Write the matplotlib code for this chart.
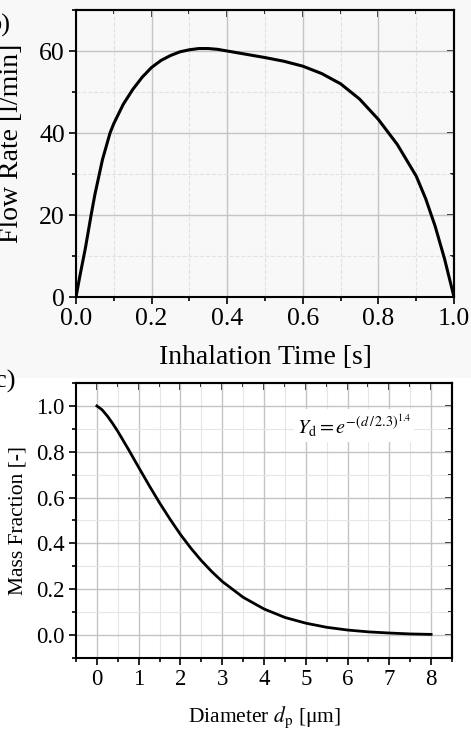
import matplotlib
matplotlib.use("Agg")
import matplotlib.pyplot as plt
from matplotlib.ticker import MultipleLocator
from matplotlib.patches import Rectangle

plt.rcParams['font.family'] = ['Liberation Serif', 'DejaVu Serif']
plt.rcParams['mathtext.fontset'] = 'stix'

# Top panel: inhalation flow profile
time_s = [0.0, 0.01, 0.025, 0.04, 0.05, 0.07, 0.09, 0.1, 0.125, 0.15, 0.175, 0.2, 0.225,
          0.25, 0.275, 0.3, 0.325, 0.35, 0.375, 0.4, 0.45, 0.5, 0.55, 0.6, 0.65, 0.7,
          0.75, 0.8, 0.85, 0.9, 0.925, 0.95, 0.975, 1.0]
flow_lpm = [0.0, 5.0, 12.0, 20.0, 25.0, 33.5, 40.0, 42.3, 47.0, 50.6, 53.6, 56.0, 57.7,
            58.9, 59.8, 60.3, 60.6, 60.6, 60.4, 60.0, 59.2, 58.4, 57.5, 56.3, 54.5, 52.0,
            48.3, 43.3, 37.2, 29.5, 24.0, 17.3, 9.3, 0.0]

# Bottom panel: mass fraction vs diameter
diam_um = [0, 0.125, 0.25, 0.375, 0.5, 0.75, 1.0, 1.25, 1.5, 1.75, 2.0, 2.25, 2.5, 2.75,
           3.0, 3.5, 4.0, 4.5, 5.0, 5.5, 6.0, 6.5, 7.0, 7.5, 8.0]
mass_frac = [1.0, 0.983, 0.956, 0.924, 0.889, 0.812, 0.732, 0.653, 0.577, 0.506, 0.439,
             0.379, 0.325, 0.277, 0.234, 0.165, 0.114, 0.077, 0.052, 0.034, 0.022, 0.014,
             0.009, 0.005, 0.003]

W, H = 471, 729
fig = plt.figure(figsize=(W / 100, H / 100), dpi=100)
fig.patch.set_facecolor('white')
fig.patches.append(Rectangle((0, 1 - 378 / H), 1, 378 / H, transform=fig.transFigure,
                             facecolor='#f8f8f8', edgecolor='none', zorder=-10))


def box(l, t, r, b):
    return [l / W, 1 - b / H, (r - l) / W, (b - t) / H]


def style(ax, fs, lw=1.5):
    for s in ax.spines.values():
        s.set_linewidth(lw)
        s.set_color('black')
    ax.tick_params(which='both', direction='out', top=False, right=False,
                   width=1.2, labelsize=fs, colors='black')
    ax.tick_params(which='major', length=5, pad=3)
    ax.tick_params(which='minor', length=3)
    axr = ax.secondary_yaxis('right')
    axr.tick_params(which='both', direction='in', labelright=False, width=1.2)
    axr.tick_params(which='major', length=5)
    axr.tick_params(which='minor', length=3)
    axt = ax.secondary_xaxis('top')
    axt.tick_params(which='both', direction='in', labeltop=False, width=1.2)
    axt.tick_params(which='major', length=5)
    axt.tick_params(which='minor', length=3)
    for a in (axr, axt):
        for s in a.spines.values():
            s.set_linewidth(lw)
    return axr, axt


# ---------- top panel ----------
ax1 = fig.add_axes(box(76, 10, 454, 297))
ax1.set_facecolor('#f8f8f8')
ax1.plot(time_s, flow_lpm, color='black', lw=2.2, zorder=3)
ax1.set_xlim(0, 1.0)
ax1.set_ylim(0, 70)
ax1.xaxis.set_major_locator(MultipleLocator(0.2))
ax1.xaxis.set_minor_locator(MultipleLocator(0.1))
ax1.yaxis.set_major_locator(MultipleLocator(20))
ax1.yaxis.set_minor_locator(MultipleLocator(10))
ax1.grid(which='major', color='#c4c4c4', lw=1.0)
ax1.grid(which='minor', color='#e2e2e2', lw=0.8, ls='--')
ax1.set_axisbelow(True)
r1, t1 = style(ax1, 18.5)
r1.yaxis.set_major_locator(MultipleLocator(20))
r1.yaxis.set_minor_locator(MultipleLocator(10))
t1.xaxis.set_major_locator(MultipleLocator(0.2))
t1.xaxis.set_minor_locator(MultipleLocator(0.1))
ax1.set_xticks([0.0, 0.2, 0.4, 0.6, 0.8, 1.0])
ax1.set_xticklabels(['0.0', '0.2', '0.4', '0.6', '0.8', '1.0'])
ax1.set_yticks([0, 20, 40, 60])
ax1.set_xlabel('Inhalation Time [s]', fontsize=20, labelpad=11)
ax1.set_ylabel('Flow Rate [l/min]', fontsize=20)
ax1.yaxis.set_label_coords(-(76 - 24) / 378, 0.537)
fig.text(10 / W, 1 - 25 / H, 'b)', fontsize=19, ha='right', va='center')

# ---------- bottom panel ----------
ax2 = fig.add_axes(box(76, 383, 452, 658))
ax2.plot(diam_um, mass_frac, color='black', lw=2.0, zorder=3)
ax2.set_xlim(-0.5, 8.5)
ax2.set_ylim(-0.1, 1.1)
ax2.xaxis.set_major_locator(MultipleLocator(1))
ax2.xaxis.set_minor_locator(MultipleLocator(0.5))
ax2.yaxis.set_major_locator(MultipleLocator(0.2))
ax2.yaxis.set_minor_locator(MultipleLocator(0.1))
ax2.grid(which='major', color='#c4c4c4', lw=1.0)
ax2.grid(which='minor', color='#e6e6e6', lw=0.8)
ax2.set_axisbelow(True)
r2, t2 = style(ax2, 16.5)
r2.yaxis.set_major_locator(MultipleLocator(0.2))
r2.yaxis.set_minor_locator(MultipleLocator(0.1))
t2.xaxis.set_major_locator(MultipleLocator(1))
t2.xaxis.set_minor_locator(MultipleLocator(0.5))
ax2.set_xticks(list(range(0, 9)))
ax2.set_yticks([0.0, 0.2, 0.4, 0.6, 0.8, 1.0])
ax2.set_yticklabels(['0.0', '0.2', '0.4', '0.6', '0.8', '1.0'])
ax2.set_xlabel(r'Diameter $d_{\mathrm{p}}$ [μm]', fontsize=15.5, labelpad=10)
ax2.set_ylabel('Mass Fraction [-]', fontsize=15.5, labelpad=6)
ax2.text(6.15, 0.915, r'$Y_{\mathrm{d}} = e^{-(d\,/\,2.3)^{1.4}}$', fontsize=14.5,
         ha='center', va='center',
         bbox=dict(facecolor='white', edgecolor='none', pad=2))
fig.text(15 / W, 1 - 381 / H, 'c)', fontsize=19, ha='right', va='center')

fig.savefig('out.png', dpi=100, facecolor=fig.get_facecolor())
